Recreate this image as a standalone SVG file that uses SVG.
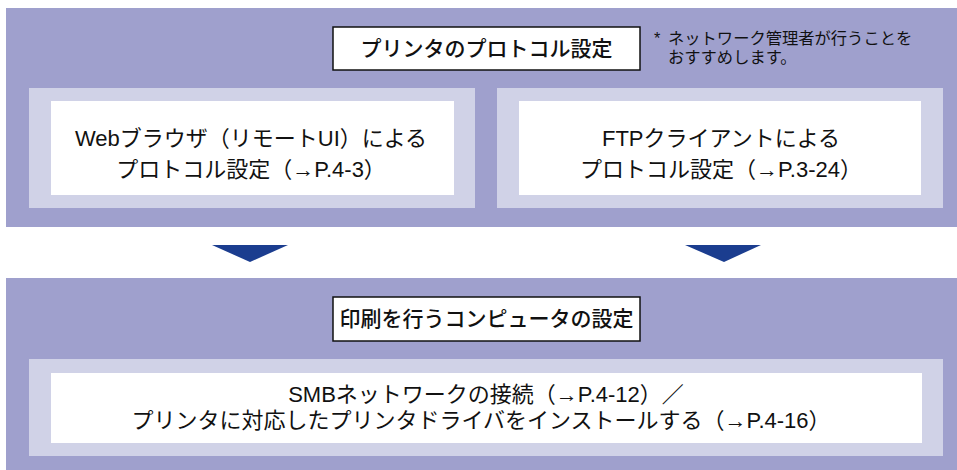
<svg xmlns="http://www.w3.org/2000/svg" width="957" height="470" viewBox="0 0 957 470">
<style>
.panel{fill:#9fa0cd}
.frame{fill:#d0d2e7}
.inner{fill:#ffffff}
.title{fill:#ffffff;stroke:#111111;stroke-width:1.5}
text{font-family:"Liberation Sans","Noto Sans CJK JP",sans-serif;fill:#111111}
.t{font-size:22px;text-anchor:middle}
.h{font-size:21px;text-anchor:middle;font-weight:500}
.n{font-size:16.3px}
.arrow{fill:#1b3d8f}
</style>
<rect width="957" height="470" fill="#ffffff"/>
<g id="panel-top">
<rect class="panel" x="6" y="8" width="951" height="219"/>
</g>
<g id="title-protocol">
<rect class="title" x="333" y="27" width="307" height="43"/>
<text class="h" x="486.5" y="56">プリンタのプロトコル設定</text>
</g>
<g id="note">
<text class="n" x="654" y="44">*</text>
<text class="n" x="668" y="44">ネットワーク管理者が行うことを</text>
<text class="n" x="668" y="63">おすすめします。</text>
</g>
<g id="node-web">
<rect class="frame" x="29" y="88" width="446" height="120"/>
<rect class="inner" x="51" y="101" width="403" height="94"/>
<text class="t" x="251" y="146">Webブラウザ（リモートUI）による</text>
<text class="t" x="251" y="177">プロトコル設定（→P.4-3）</text>
</g>
<g id="node-ftp">
<rect class="frame" x="497" y="88" width="446" height="120"/>
<rect class="inner" x="519" y="101" width="402" height="94"/>
<text class="t" x="721" y="146">FTPクライアントによる</text>
<text class="t" x="721" y="177">プロトコル設定（→P.3-24）</text>
</g>
<g id="connectors">
<polygon class="arrow" points="212,245 288,245 250,262"/>
<polygon class="arrow" points="685,245 761,245 724,262"/>
</g>
<g id="panel-bottom">
<rect class="panel" x="6" y="278" width="951" height="192"/>
</g>
<g id="title-computer">
<rect class="title" x="333" y="297" width="307" height="44"/>
<text class="h" x="486.5" y="326">印刷を行うコンピュータの設定</text>
</g>
<g id="node-smb">
<rect class="frame" x="29" y="359" width="914" height="97"/>
<rect class="inner" x="51" y="373" width="871" height="70"/>
<text class="t" x="486" y="402">SMBネットワークの接続（→P.4-12）／</text>
<text class="t" x="481" y="428">プリンタに対応したプリンタドライバをインストールする（→P.4-16）</text>
</g>
</svg>
